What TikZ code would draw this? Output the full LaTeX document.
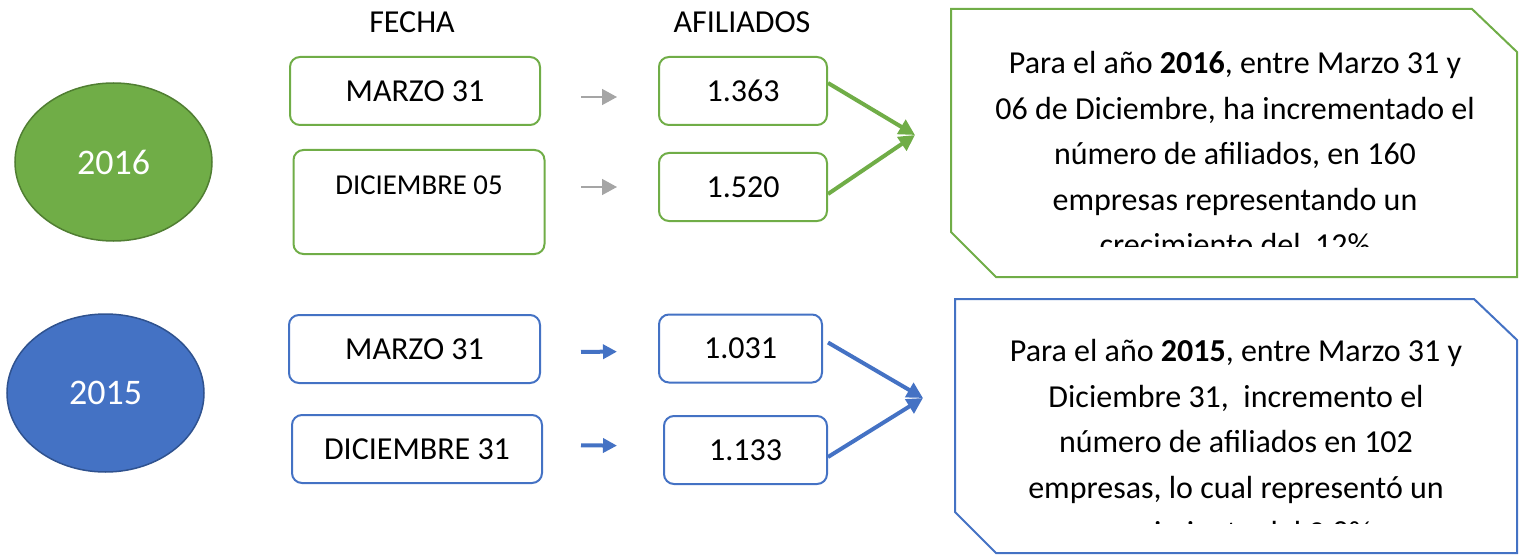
\documentclass[tikz,border=0pt]{standalone}
\usepackage{fontspec}
\setmainfont{Carlito}
\usetikzlibrary{arrows.meta,positioning,shapes.geometric}
\definecolor{verde}{HTML}{70AD47}
\definecolor{verdeosc}{HTML}{507E32}
\definecolor{azul}{HTML}{4472C4}
\definecolor{azulosc}{HTML}{2F528F}
\definecolor{gris}{HTML}{A5A5A5}
\tikzset{
  anio/.style={ellipse, minimum width=98.5pt, minimum height=79pt, inner sep=0pt,
    line width=0.75pt, text=white, font=\fontsize{18}{22}\selectfont},
  caja/.style={draw, rounded corners=5pt, line width=1pt, inner sep=0pt,
    minimum height=34pt, font=\fontsize{16}{20}\selectfont},
  titulo/.style={font=\fontsize{16}{20}\selectfont},
  flechita/.style={gris, line width=0.75pt, -{Triangle[length=7.5pt,width=8pt]}},
  flechacorta/.style={azul, line width=2pt, -{Triangle[length=7pt,width=7pt]}},
  flecha/.style={line width=2pt, -{Triangle[length=8pt,width=8pt]}},
  nota/.style={align=center, inner sep=0pt, font=\fontsize{16}{22.75}\selectfont},
}

\begin{document}
\begin{tikzpicture}[x=0.5pt, y=-0.5pt]
	\useasboundingbox (0,0) rectangle (1526,556);
	\node[titulo] (fecha) at (412,22) {FECHA};
	\node[titulo] (afil) at (742,22) {AFILIADOS};

	% 2016
	\node[anio, fill=verde, draw=verdeosc] (y16) at (113.5,162) {2016};
	\node[caja, draw=verde, minimum width=125pt] (f16a) at (415,91) {MARZO 31};
	\node[caja, draw=verde, minimum width=125.5pt, minimum height=0pt, text height=22pt,
		text depth=30pt, font=\fontsize{14.4}{18}\selectfont] (f16b) at (419,202) {DICIEMBRE 05};
	\node[caja, draw=verde, minimum width=84pt] (a16a) at (743,91) {1.363};
	\node[caja, draw=verde, minimum width=84pt] (a16b) at (743,187) {1.520};
	\coordinate (t16) at (915,135);
	\draw[flechita, shorten <=20pt, shorten >=20.5pt] ([yshift=-3pt]f16a.east) -- ([yshift=-3pt]a16a.west);
	\draw[flechita, shorten <=17.75pt, shorten >=20.5pt] (f16b.east |- a16b) -- (a16b.west);
	\draw[flecha, verde] ([yshift=4pt]a16a.east) -- (t16);
	\draw[flecha, verde] ([yshift=-3.5pt]a16b.east) -- (t16);
	\draw[verde, line width=1pt, fill=white] (951,9) -- (1472,9) -- (1517,52) -- (1517,277)
		-- (996,277) -- (951,232) -- cycle;
	\begin{scope}
		\clip (940,0) rectangle (1526,246);
		\node[nota, anchor=north] (n16) at (1235,51) {Para el año \textbf{2016}, entre Marzo 31 y\\
			06 de Diciembre, ha incrementado el\\número de afiliados, en 160\\
			empresas representando un\\crecimiento del\ \ 12\%};
	\end{scope}

	% 2015
	\node[anio, fill=azul, draw=azulosc] (y15) at (105.5,393) {2015};
	\node[caja, draw=azul, minimum width=125.5pt] (f15a) at (414.5,349) {MARZO 31};
	\node[caja, draw=azul, minimum width=125pt] (f15b) at (417,449) {DICIEMBRE 31};
	\node[caja, draw=azul, minimum width=81.5pt] (a15a) at (740.5,348.5) {1.031};
	\node[caja, draw=azul, minimum width=81.5pt] (a15b) at (745.5,450) {1.133};
	\coordinate (t15) at (923,398);
	\draw[flechacorta, shorten <=20pt, shorten >=20.5pt] ([yshift=-1.5pt]f15a.east) -- ([yshift=-1.5pt]a15a.west);
	\draw[flechacorta, shorten <=19pt, shorten >=23pt] ([yshift=2pt]f15b.east) -- ([yshift=2pt]a15b.west);
	\draw[flecha, azul] ([xshift=2.5pt,yshift=3pt]a15a.east) -- (t15);
	\draw[flecha, azul] ([yshift=-3.5pt]a15b.east) -- (t15);
	\draw[azul, line width=1pt, fill=white] (955,299) -- (1474,299) -- (1517,340) -- (1517,553)
		-- (996,553) -- (955,512) -- cycle;
	\begin{scope}
		\clip (940,290) rectangle (1526,523);
		\node[nota, anchor=north] (n15) at (1236,339) {Para el año \textbf{2015}, entre Marzo 31 y\\
			Diciembre 31,\ \ incremento el\\número de afiliados en 102\\
			empresas, lo cual representó un\\crecimiento del 9,8\%};
	\end{scope}
\end{tikzpicture}
\end{document}
